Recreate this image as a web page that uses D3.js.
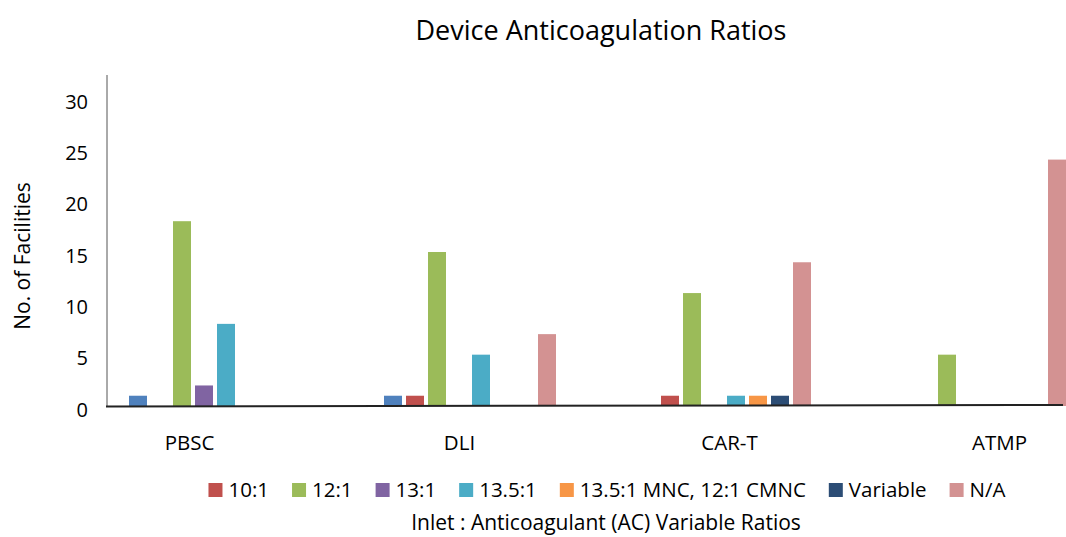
<!DOCTYPE html>
<html>
<head>
<meta charset="utf-8">
<script src="https://cdn.jsdelivr.net/npm/d3@7"></script>
<style>
  body { margin: 0; background: #fff; }
  text { font-family: "Open Sans", sans-serif; fill: #000; }
</style>
</head>
<body>
<div id="vis"></div>
<script>
// categories and series
var categories = ["PBSC", "DLI", "CAR-T", "ATMP"];
var seriesNames = ["", "10:1", "12:1", "13:1", "13.5:1", "13.5:1 MNC, 12:1 CMNC", "Variable", "N/A"];
var colors = ["#4F81BD", "#C0504D", "#9BBB59", "#8064A2", "#4BACC6", "#F79646", "#2C4D75", "#D39292"];

var unnamed   = [1, 1, 0, 0];
var r10       = [0, 1, 1, 0];
var r12       = [18, 15, 11, 5];
var r13       = [2, 0, 0, 0];
var r135      = [8, 5, 1, 0];
var r135mnc   = [0, 0, 1, 0];
var variable  = [0, 0, 1, 0];
var na        = [0, 7, 14, 24];
var seriesValues = [unnamed, r10, r12, r13, r135, r135mnc, variable, na];

var yTicks = [0, 5, 10, 15, 20, 25, 30];

var width = 1066, height = 537;
var x0 = 107, xEnd = 1063, yBase = 406, yTop = 98;

var svg = d3.select("#vis")
    .append("svg")
    .attr("width", width)
    .attr("height", height);

// category band (step 255), inner band for series
var x = d3.scaleBand().domain(categories).range([x0, x0 + 255 * 4]);
var xInner = d3.scaleBand().domain(d3.range(seriesNames.length))
    .range([20, 196]).paddingInner(4 / 22).paddingOuter(2 / 22);
var xLabel = d3.scalePoint().domain(categories).range([189, 999]);
var y = d3.scaleLinear().domain([0, 30]).range([yBase, yTop]);

// title
svg.append("text")
    .attr("x", 601).attr("y", 40)
    .attr("text-anchor", "middle")
    .style("font-size", "27px")
    .text("Device Anticoagulation Ratios");

// bars
var rows = [];
categories.forEach(function (c, ci) {
    seriesValues.forEach(function (vals, si) {
        if (vals[ci] > 0) rows.push({ cat: c, s: si, v: vals[ci] });
    });
});

svg.append("g").selectAll("rect")
    .data(rows)
    .enter()
    .append("rect")
    .attr("x", d => x(d.cat) + xInner(d.s))
    .attr("width", xInner.bandwidth())
    .attr("y", d => y(d.v))
    .attr("height", d => y(0) - y(d.v))
    .attr("fill", d => colors[d.s]);

// y axis
var yAxis = d3.axisLeft(y).tickValues(yTicks).tickSize(0).tickPadding(19);
var gy = svg.append("g")
    .attr("transform", "translate(" + x0 + ",0)")
    .call(yAxis);
gy.select(".domain").remove();
gy.selectAll("text")
    .style("font-size", "20px")
    .attr("dy", "0.5em");
svg.append("line")
    .attr("x1", x0).attr("x2", x0)
    .attr("y1", 75).attr("y2", yBase)
    .attr("stroke", "#555").attr("stroke-width", 1);

// x axis
var xAxis = d3.axisBottom(xLabel).tickSize(0).tickPadding(29);
var gx = svg.append("g")
    .attr("transform", "translate(0," + yBase + ")")
    .call(xAxis);
gx.select(".domain").remove();
gx.selectAll("text").style("font-size", "20.5px");
svg.append("line")
    .attr("x1", x0 - 1).attr("x2", xEnd)
    .attr("y1", yBase + 0.5).attr("y2", yBase - 1)
    .attr("stroke", "#222").attr("stroke-width", 2);

// y label
svg.append("text")
    .attr("transform", "translate(30,256) rotate(-90)")
    .attr("text-anchor", "middle")
    .style("font-size", "21px")
    .text("No. of Facilities");

// legend
var legend = svg.append("g");
var lx = 0;
seriesNames.forEach(function (name, i) {
    if (name === "") return;
    var g = legend.append("g").attr("transform", "translate(" + lx + ",0)");
    g.append("rect")
        .attr("x", 0).attr("y", -7)
        .attr("width", 14).attr("height", 14)
        .attr("fill", colors[i]);
    var t = g.append("text")
        .attr("x", 20).attr("y", 0)
        .attr("dy", "0.35em")
        .style("font-size", "20.5px")
        .text(name);
    lx += 20 + t.node().getComputedTextLength() + 23;
});
var legendW = lx - 23;
legend.attr("transform", "translate(" + (607 - legendW / 2) + ",490)");

// x axis title
svg.append("text")
    .attr("x", 606).attr("y", 530)
    .attr("text-anchor", "middle")
    .style("font-size", "21px")
    .text("Inlet : Anticoagulant (AC) Variable Ratios");
</script>
</body>
</html>
